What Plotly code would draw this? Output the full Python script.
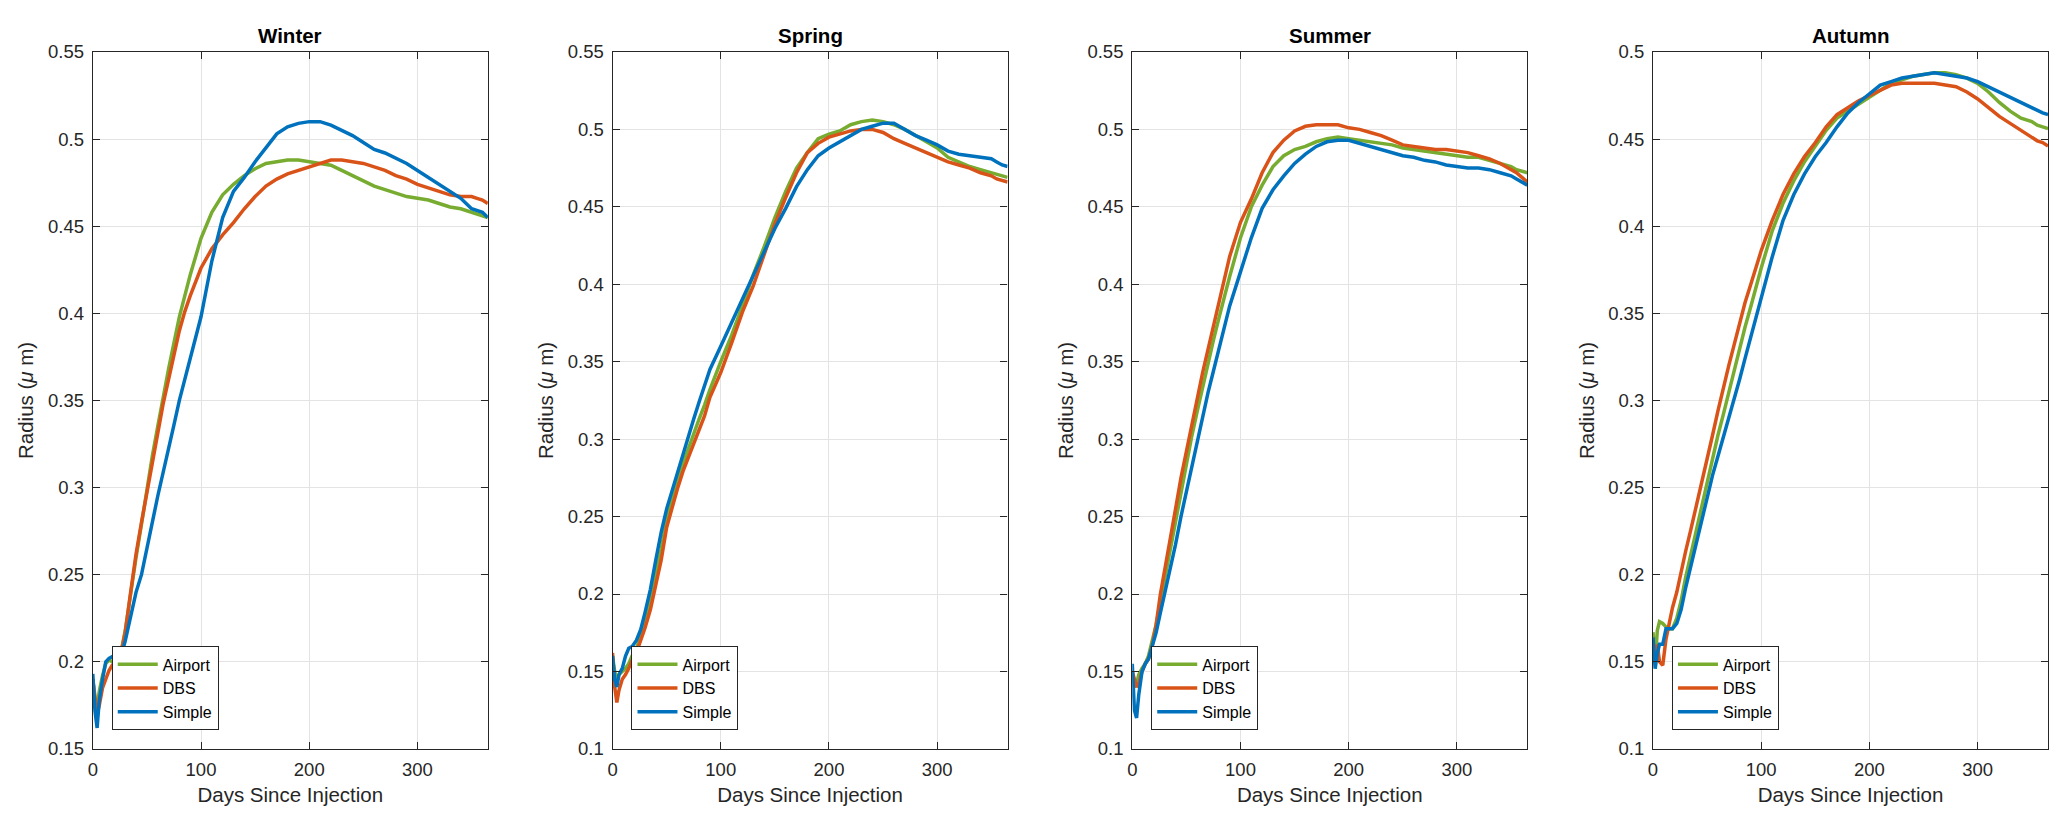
import plotly.graph_objects as go

# ---------------- data ----------------
SEASONS = ["Winter", "Spring", "Summer", "Autumn"]
SERIES = ["Airport", "DBS", "Simple"]
COLORS = ["#77AC30", "#D95319", "#0072BD"]

DAYS = [0, 2, 4, 6, 9, 12, 15, 18, 22, 26, 30, 35, 40, 45, 50, 55, 60, 65, 70, 75,
        80, 85, 90, 100, 110, 120, 130, 140, 150, 160, 170, 180, 190, 200, 210, 220,
        230, 240, 250, 260, 270, 280, 290, 300, 310, 320, 330, 340, 350, 355, 360, 365]

WINTER_AIRPORT = [0.19, 0.178, 0.174, 0.183, 0.192, 0.199, 0.201, 0.2, 0.2, 0.205, 0.218, 0.24,
                  0.26, 0.279, 0.299, 0.318, 0.335, 0.352, 0.368, 0.383, 0.398, 0.41, 0.422,
                  0.443, 0.458, 0.468, 0.474, 0.479, 0.483, 0.486, 0.487, 0.488, 0.488, 0.487,
                  0.486, 0.485, 0.482, 0.479, 0.476, 0.473, 0.471, 0.469, 0.467, 0.466, 0.465,
                  0.463, 0.461, 0.46, 0.458, 0.457, 0.456, 0.455]
WINTER_DBS = [0.19, 0.18, 0.17, 0.175, 0.185, 0.19, 0.195, 0.198, 0.199, 0.205, 0.217, 0.24,
              0.262, 0.28, 0.297, 0.315, 0.332, 0.348, 0.362, 0.376, 0.39, 0.401, 0.41, 0.426,
              0.437, 0.445, 0.452, 0.46, 0.467, 0.473, 0.477, 0.48, 0.482, 0.484, 0.486, 0.488,
              0.488, 0.487, 0.486, 0.484, 0.482, 0.479, 0.477, 0.474, 0.472, 0.47, 0.468,
              0.467, 0.467, 0.466, 0.465, 0.463]
WINTER_SIMPLE = [0.193, 0.172, 0.162, 0.178, 0.19, 0.2, 0.202, 0.203, 0.199, 0.203, 0.212,
                 0.225, 0.24, 0.25, 0.266, 0.28, 0.295, 0.308, 0.322, 0.336, 0.35, 0.362,
                 0.375, 0.398, 0.43, 0.455, 0.47, 0.478, 0.487, 0.495, 0.503, 0.507, 0.509,
                 0.51, 0.51, 0.508, 0.505, 0.502, 0.498, 0.494, 0.492, 0.489, 0.486, 0.482,
                 0.478, 0.474, 0.47, 0.466, 0.46, 0.459, 0.458, 0.455]

SPRING_AIRPORT = [0.16, 0.15, 0.145, 0.148, 0.15, 0.152, 0.155, 0.16, 0.165, 0.172, 0.182,
                  0.197, 0.212, 0.229, 0.248, 0.261, 0.273, 0.284, 0.294, 0.303, 0.313, 0.322,
                  0.332, 0.35, 0.367, 0.386, 0.406, 0.424, 0.443, 0.46, 0.475, 0.485, 0.494,
                  0.497, 0.499, 0.503, 0.505, 0.506, 0.505, 0.503, 0.5, 0.496, 0.492, 0.488,
                  0.482, 0.479, 0.476, 0.474, 0.472, 0.471, 0.47, 0.469]
SPRING_DBS = [0.162, 0.14, 0.13, 0.138, 0.145, 0.148, 0.152, 0.157, 0.162, 0.17, 0.178, 0.19,
              0.205, 0.222, 0.243, 0.256, 0.268, 0.279, 0.288, 0.297, 0.305, 0.315, 0.327,
              0.343, 0.362, 0.382, 0.399, 0.419, 0.439, 0.456, 0.472, 0.485, 0.491, 0.495,
              0.497, 0.499, 0.5, 0.5, 0.498, 0.494, 0.491, 0.488, 0.485, 0.482, 0.479, 0.477,
              0.475, 0.472, 0.47, 0.468, 0.467, 0.466]
SPRING_SIMPLE = [0.16, 0.145, 0.14, 0.148, 0.152, 0.16, 0.165, 0.166, 0.17, 0.177, 0.188,
                 0.203, 0.222, 0.24, 0.255, 0.267, 0.278, 0.29, 0.301, 0.313, 0.324, 0.335,
                 0.345, 0.36, 0.375, 0.39, 0.406, 0.421, 0.436, 0.449, 0.463, 0.474, 0.483,
                 0.488, 0.492, 0.496, 0.5, 0.502, 0.504, 0.504, 0.5, 0.496, 0.493, 0.49, 0.486,
                 0.484, 0.483, 0.482, 0.481, 0.479, 0.477, 0.476]

SUMMER_AIRPORT = [0.15, 0.14, 0.142, 0.148, 0.152, 0.155, 0.16, 0.168, 0.18, 0.195, 0.21,
                  0.228, 0.248, 0.267, 0.285, 0.302, 0.318, 0.334, 0.35, 0.364, 0.378, 0.392,
                  0.405, 0.43, 0.45, 0.464, 0.476, 0.483, 0.487, 0.489, 0.492, 0.494, 0.495,
                  0.494, 0.493, 0.492, 0.491, 0.49, 0.488, 0.487, 0.486, 0.485, 0.484, 0.483,
                  0.482, 0.482, 0.48, 0.478, 0.476, 0.474, 0.473, 0.472]
SUMMER_DBS = [0.15, 0.145, 0.14, 0.142, 0.15, 0.155, 0.158, 0.165, 0.18, 0.2, 0.215, 0.235,
              0.255, 0.275, 0.292, 0.31, 0.327, 0.343, 0.358, 0.373, 0.39, 0.403, 0.418, 0.44,
              0.455, 0.472, 0.485, 0.493, 0.499, 0.502, 0.503, 0.503, 0.503, 0.501, 0.5, 0.498,
              0.496, 0.493, 0.49, 0.489, 0.488, 0.487, 0.487, 0.486, 0.485, 0.483, 0.481,
              0.478, 0.474, 0.472, 0.469, 0.466]
SUMMER_SIMPLE = [0.155, 0.125, 0.12, 0.135, 0.15, 0.155, 0.158, 0.165, 0.175, 0.188, 0.2,
                 0.215, 0.232, 0.25, 0.266, 0.283, 0.299, 0.315, 0.33, 0.344, 0.358, 0.372,
                 0.386, 0.408, 0.43, 0.449, 0.461, 0.47, 0.478, 0.484, 0.489, 0.492, 0.493,
                 0.493, 0.491, 0.489, 0.487, 0.485, 0.483, 0.482, 0.48, 0.479, 0.477, 0.476,
                 0.475, 0.475, 0.474, 0.472, 0.47, 0.468, 0.466, 0.464]

AUTUMN_AIRPORT = [0.167, 0.15, 0.168, 0.173, 0.172, 0.17, 0.169, 0.169, 0.175, 0.185, 0.198,
                  0.212, 0.226, 0.24, 0.254, 0.267, 0.28, 0.292, 0.305, 0.318, 0.33, 0.342,
                  0.353, 0.376, 0.397, 0.413, 0.426, 0.437, 0.446, 0.455, 0.462, 0.466, 0.47,
                  0.474, 0.478, 0.482, 0.484, 0.486, 0.487, 0.488, 0.488, 0.487, 0.485, 0.482,
                  0.477, 0.471, 0.466, 0.462, 0.46, 0.458, 0.457, 0.456]
AUTUMN_DBS = [0.163, 0.15, 0.16, 0.15, 0.148, 0.163, 0.172, 0.181, 0.19, 0.202, 0.213, 0.226,
              0.239, 0.253, 0.267, 0.28, 0.294, 0.308, 0.32, 0.332, 0.345, 0.356, 0.366, 0.386,
              0.403, 0.418, 0.43, 0.44, 0.448, 0.457, 0.464, 0.468, 0.472, 0.475, 0.478, 0.481,
              0.482, 0.482, 0.482, 0.482, 0.481, 0.48, 0.477, 0.473, 0.468, 0.463, 0.459,
              0.455, 0.451, 0.449, 0.448, 0.446]
AUTUMN_SIMPLE = [0.164, 0.146, 0.155, 0.16, 0.16, 0.169, 0.169, 0.169, 0.172, 0.18, 0.192,
                 0.205, 0.218, 0.232, 0.245, 0.257, 0.268, 0.279, 0.289, 0.3, 0.312, 0.324,
                 0.336, 0.359, 0.382, 0.403, 0.418, 0.43, 0.44, 0.448, 0.457, 0.465, 0.471,
                 0.476, 0.481, 0.483, 0.485, 0.486, 0.487, 0.488, 0.487, 0.486, 0.485, 0.483,
                 0.48, 0.477, 0.474, 0.471, 0.468, 0.466, 0.465, 0.464]

SEASON_DATA = {
    "Winter": [WINTER_AIRPORT, WINTER_DBS, WINTER_SIMPLE],
    "Spring": [SPRING_AIRPORT, SPRING_DBS, SPRING_SIMPLE],
    "Summer": [SUMMER_AIRPORT, SUMMER_DBS, SUMMER_SIMPLE],
    "Autumn": [AUTUMN_AIRPORT, AUTUMN_DBS, AUTUMN_SIMPLE],
}

X_TICKS = [0, 100, 200, 300]
X_TICK_LABELS = ["0", "100", "200", "300"]
Y_TICKS_WINTER = [0.15, 0.2, 0.25, 0.3, 0.35, 0.4, 0.45, 0.5, 0.55]
Y_LABELS_WINTER = ["0.15", "0.2", "0.25", "0.3", "0.35", "0.4", "0.45", "0.5", "0.55"]
Y_TICKS_SPRING_SUMMER = [0.1, 0.15, 0.2, 0.25, 0.3, 0.35, 0.4, 0.45, 0.5, 0.55]
Y_LABELS_SPRING_SUMMER = ["0.1", "0.15", "0.2", "0.25", "0.3", "0.35", "0.4", "0.45", "0.5", "0.55"]
Y_TICKS_AUTUMN = [0.1, 0.15, 0.2, 0.25, 0.3, 0.35, 0.4, 0.45, 0.5]
Y_LABELS_AUTUMN = ["0.1", "0.15", "0.2", "0.25", "0.3", "0.35", "0.4", "0.45", "0.5"]

Y_AXIS_SETUP = {
    "Winter": ([0.15, 0.55], Y_TICKS_WINTER, Y_LABELS_WINTER),
    "Spring": ([0.1, 0.55], Y_TICKS_SPRING_SUMMER, Y_LABELS_SPRING_SUMMER),
    "Summer": ([0.1, 0.55], Y_TICKS_SPRING_SUMMER, Y_LABELS_SPRING_SUMMER),
    "Autumn": ([0.1, 0.5], Y_TICKS_AUTUMN, Y_LABELS_AUTUMN),
}

# ---------------- layout geometry ----------------
W, H = 2067, 832
PANEL_LEFT = [88, 609, 1130, 1652]
PANEL_W = 396
PLOT_TOP, PLOT_BOTTOM = 42, 757
FONT = "Liberation Sans, Arial, Helvetica, sans-serif"
AX_COLOR = "#262626"
GRID_COLOR = "#e3e3e3"

fig = go.Figure()
layout = dict(
    width=W, height=H,
    margin=dict(l=0, r=0, t=0, b=0),
    paper_bgcolor="white", plot_bgcolor="white",
    font=dict(family=FONT, color="#262626", size=18),
    showlegend=True,
    annotations=[],
)

y0 = 1 - PLOT_BOTTOM / H
y1 = 1 - PLOT_TOP / H

for i, season in enumerate(SEASONS):
    n = "" if i == 0 else str(i + 1)
    xa, ya = "x" + n, "y" + n
    leg = "legend" + n
    x0 = PANEL_LEFT[i] / W
    x1 = (PANEL_LEFT[i] + PANEL_W) / W
    yrange, yticks, ylabels = Y_AXIS_SETUP[season]

    for name, color, vals in zip(SERIES, COLORS, SEASON_DATA[season]):
        fig.add_trace(go.Scatter(
            x=DAYS, y=vals, mode="lines", name=name,
            line=dict(color=color, width=3.5),
            xaxis=xa, yaxis=ya, legend=leg,
        ))

    common = dict(
        showline=True, linecolor=AX_COLOR, linewidth=1.2, mirror="ticks",
        ticks="inside", ticklen=7, tickwidth=1.2, tickcolor=AX_COLOR,
        showgrid=True, gridcolor=GRID_COLOR, gridwidth=1, zeroline=False,
        tickfont=dict(family=FONT, size=18.5, color="#262626"),
    )
    layout["xaxis" + n] = dict(
        common, domain=[x0, x1], range=[0, 365], anchor=ya,
        tickmode="array", tickvals=X_TICKS, ticktext=X_TICK_LABELS,
        ticklabelstandoff=4,
        title=dict(text="Days Since Injection", font=dict(family=FONT, size=20.5, color="#262626"),
                   standoff=8),
    )
    layout["yaxis" + n] = dict(
        common, domain=[y0, y1], range=yrange, anchor=xa,
        tickmode="array", tickvals=yticks, ticktext=ylabels,
        ticklabelstandoff=4,
        title=dict(text="Radius (<i>μ</i> m)", font=dict(family=FONT, size=20.5, color="#262626"),
                   standoff=8),
    )
    layout[leg] = dict(
        x=(PANEL_LEFT[i] + 19) / W, y=1 - 738 / H, xanchor="left", yanchor="bottom",
        bgcolor="white", bordercolor=AX_COLOR, borderwidth=1,
        font=dict(family=FONT, size=16, color="#000000"),
        tracegroupgap=0, itemwidth=40,
    )
    layout["annotations"].append(dict(
        text="<b>" + season + "</b>", xref="paper", yref="paper",
        x=(x0 + x1) / 2, y=y1, xanchor="center", yanchor="bottom", yshift=3,
        showarrow=False, font=dict(family=FONT, size=20.5, color="#000000"),
    ))

fig.update_layout(**layout)
fig.write_html("out.html", config={"displayModeBar": False},
               post_script="document.body.style.margin='0px';")
